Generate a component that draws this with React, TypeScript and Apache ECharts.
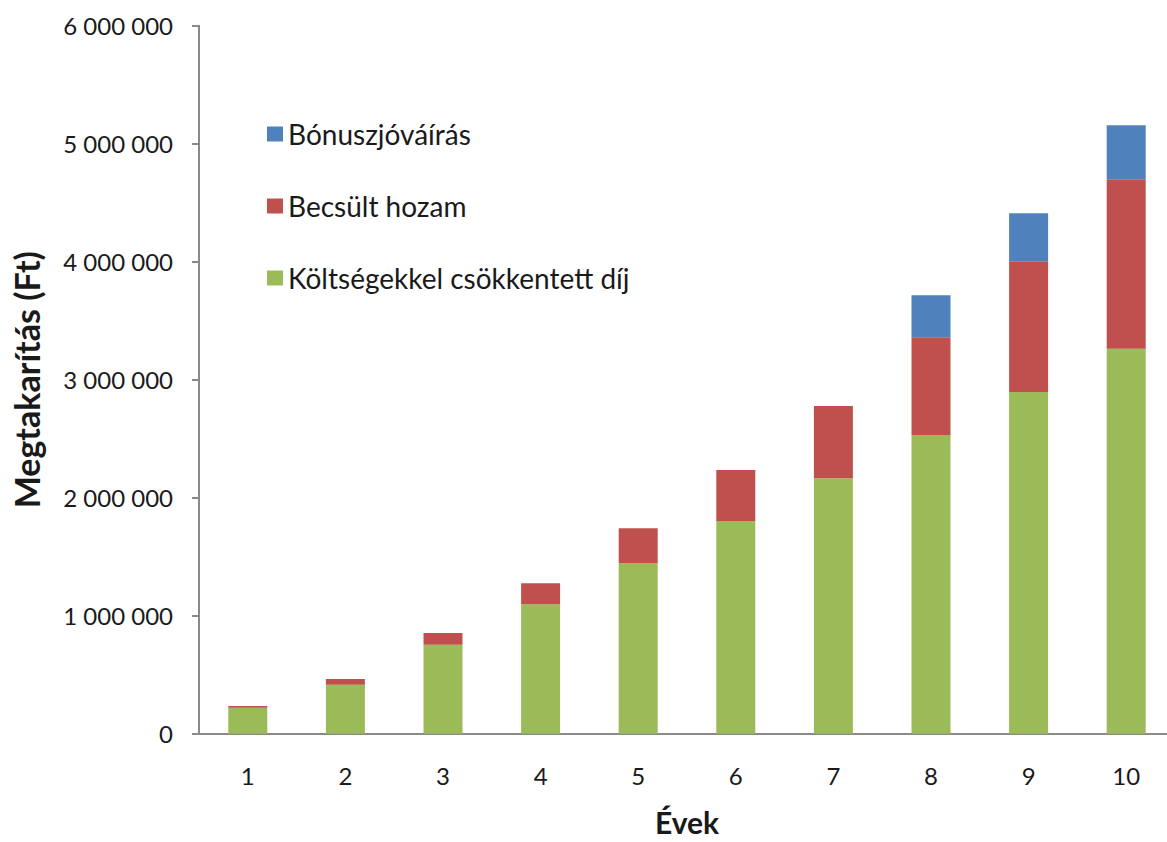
import React, { useEffect, useRef } from "react";
import * as echarts from "echarts";

const years = ["1", "2", "3", "4", "5", "6", "7", "8", "9", "10"];
const costReducedFee = [220000, 415000, 754000, 1097000, 1447000, 1803000, 2164000, 2531000, 2896000, 3263000];
const estimatedYield = [15000, 49000, 99000, 178000, 294000, 432000, 613000, 828000, 1107000, 1435000];
const bonusCredit = [0, 0, 0, 0, 0, 0, 0, 356000, 407000, 458000];
const yTicks = { min: 0, max: 6000000, interval: 1000000 };

const FONT = "Lato";
const TXT = "#1a1a1a";
const AXIS = "#8a8a8a";

function fmt(v: number): string {
  return String(Math.round(v)).replace(/\B(?=(\d{3})+(?!\d))/g, " ");
}

export default function App() {
  const ref = useRef<HTMLDivElement>(null);
  useEffect(() => {
    document.body.style.margin = "0";
    const chart = echarts.init(ref.current!, undefined, { renderer: "svg" });
    chart.setOption({
      animation: false,
      backgroundColor: "#ffffff",
      textStyle: { fontFamily: FONT },
      legend: {
        orient: "vertical",
        left: 262,
        top: 115,
        icon: "rect",
        itemWidth: 16,
        itemHeight: 15,
        itemGap: 44,
        data: ["Bónuszjóváírás", "Becsült hozam", "Költségekkel csökkentett díj"],
        textStyle: { fontFamily: FONT, fontSize: 28, lineHeight: 28, color: TXT, padding: [0, 0, 0, 0] },
      },
      grid: { left: 199, top: 25.7, width: 976, height: 708, outerBoundsMode: "none", containLabel: false },
      xAxis: {
        type: "category",
        data: years,
        name: "Évek",
        nameLocation: "middle",
        nameGap: 73,
        nameTextStyle: { fontFamily: FONT, fontSize: 30, lineHeight: 30, fontWeight: "bold", color: TXT },
        axisLine: { lineStyle: { color: AXIS, width: 2 } },
        axisTick: { length: 8, lineStyle: { color: AXIS, width: 2 } },
        axisLabel: { margin: 30, fontFamily: FONT, fontSize: 24, color: TXT },
      },
      yAxis: {
        type: "value",
        min: yTicks.min,
        max: yTicks.max,
        interval: yTicks.interval,
        name: "Megtakarítás (Ft)",
        nameLocation: "middle",
        nameGap: 156,
        nameRotate: 90,
        nameTextStyle: { fontFamily: FONT, fontSize: 34, fontWeight: "bold", color: TXT },
        axisLine: { show: true, lineStyle: { color: AXIS, width: 2 } },
        axisTick: { show: true, length: 7, lineStyle: { color: AXIS, width: 2 } },
        splitLine: { show: false },
        axisLabel: { margin: 26, fontFamily: FONT, fontSize: 24, color: TXT, formatter: (v: number) => fmt(v) },
      },
      series: [
        {
          name: "Költségekkel csökkentett díj",
          type: "bar",
          stack: "total",
          barWidth: 39,
          itemStyle: { color: "#9BBB59" },
          data: costReducedFee,
        },
        {
          name: "Becsült hozam",
          type: "bar",
          stack: "total",
          barWidth: 39,
          itemStyle: { color: "#C0504D" },
          data: estimatedYield,
        },
        {
          name: "Bónuszjóváírás",
          type: "bar",
          stack: "total",
          barWidth: 39,
          itemStyle: { color: "#4F81BD" },
          data: bonusCredit,
        },
      ],
    });
    return () => chart.dispose();
  }, []);
  return <div ref={ref} style={{ width: 1167, height: 842 }} />;
}
